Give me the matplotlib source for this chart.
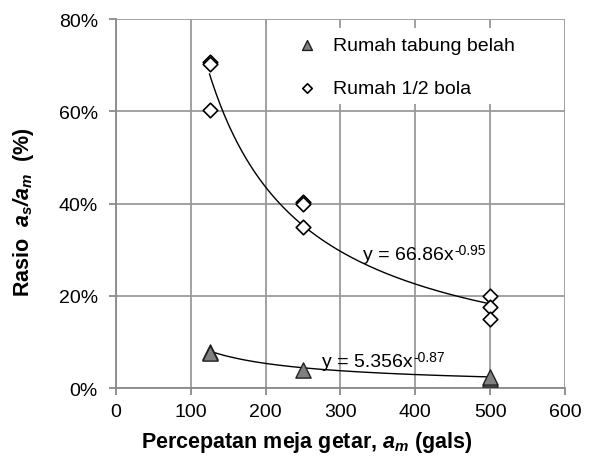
import numpy as np
import matplotlib.pyplot as plt

plt.rcParams['font.family'] = ['Liberation Sans', 'DejaVu Sans']
plt.rcParams['mathtext.fontset'] = 'custom'
plt.rcParams['mathtext.rm'] = 'Liberation Sans'
plt.rcParams['mathtext.it'] = 'Liberation Sans:italic'
plt.rcParams['mathtext.bf'] = 'Liberation Sans:bold'
plt.rcParams['mathtext.bfit'] = 'Liberation Sans:bold:italic'

# data (ratio as fraction)
x_tabung = [125, 125, 250, 500, 500]
y_tabung = [0.078, 0.076, 0.040, 0.020, 0.024]
x_bola = [125, 125, 125, 250, 250, 250, 500, 500, 500]
y_bola = [0.708, 0.703, 0.603, 0.403, 0.400, 0.350, 0.200, 0.175, 0.150]

# power trendlines y = a * x^b
a_bola, b_bola = 66.86, -0.95
a_tabung, b_tabung = 5.356, -0.87

fig = plt.figure(figsize=(6.01, 4.64), dpi=100)
ax = fig.add_axes([0.193, 0.1616, 0.747, 0.795])

xs = np.linspace(125, 500, 200)
ax.plot(xs, a_bola * xs ** b_bola, color='black', lw=1, zorder=3)
ax.plot(xs, a_tabung * xs ** b_tabung, color='black', lw=1, zorder=3)

ax.scatter(x_tabung, y_tabung, marker='^', s=120, facecolor='#808080',
           edgecolor='#202020', linewidth=1, zorder=4, label='Rumah tabung belah')
ax.scatter(x_bola, y_bola, marker='D', s=55, facecolor='white',
           edgecolor='black', linewidth=1.2, zorder=4, label='Rumah 1/2 bola')

ax.set_xlim(0, 600)
ax.set_ylim(0, 0.8)
ax.set_xticks(np.arange(0, 601, 100))
ax.set_yticks(np.arange(0, 0.81, 0.2))
ax.set_yticklabels(['0%', '20%', '40%', '60%', '80%'])
ax.grid(True, color='#9a9a9a', lw=1.3)
ax.set_axisbelow(True)
for s in ['top', 'right']:
    ax.spines[s].set_visible(False)
for s in ['left', 'bottom']:
    ax.spines[s].set_color('#8a8a8a')
    ax.spines[s].set_linewidth(1.3)
ax.tick_params(colors='#8a8a8a', labelcolor='black', labelsize=14, length=5, width=1.3)
ax.tick_params(axis='x', pad=6)
ax.tick_params(axis='y', pad=8)

ax.set_xlabel(r'Percepatan meja getar, $\mathbfit{a_m}$ (gals)', fontsize=15.5,
              fontweight='bold')
ax.set_ylabel(r'Rasio  $\mathbfit{a_s/a_m}$  (%)', fontsize=15.5, fontweight='bold')
ax.xaxis.set_label_coords(0.425, -0.112)
ax.yaxis.set_label_coords(-0.178, 0.48)

leg = ax.legend(loc='upper left', bbox_to_anchor=(0.3875, 0.975), borderaxespad=0,
                frameon=True, facecolor='white', edgecolor='none', framealpha=1,
                fancybox=False, fontsize=14, handlelength=1, handletextpad=0.8,
                labelspacing=1.3, markerscale=0.65)

# trendline equations: main text plus superscript placed after measuring
fig.canvas.draw()
renderer = fig.canvas.get_renderer()
for xt, yt, main, sup in [(330, 0.28, 'y = 66.86x', '-0.95'),
                          (275, 0.048, 'y = 5.356x', '-0.87')]:
    t = ax.text(xt, yt, main, fontsize=14, va='baseline', zorder=5)
    bb = t.get_window_extent(renderer)
    x1, y1 = ax.transData.inverted().transform((bb.x1 + 0.5, bb.y1 + 3))
    ax.text(x1, y1, sup, fontsize=10, va='top', ha='left', zorder=5)

fig.savefig('out.png', dpi=100)
